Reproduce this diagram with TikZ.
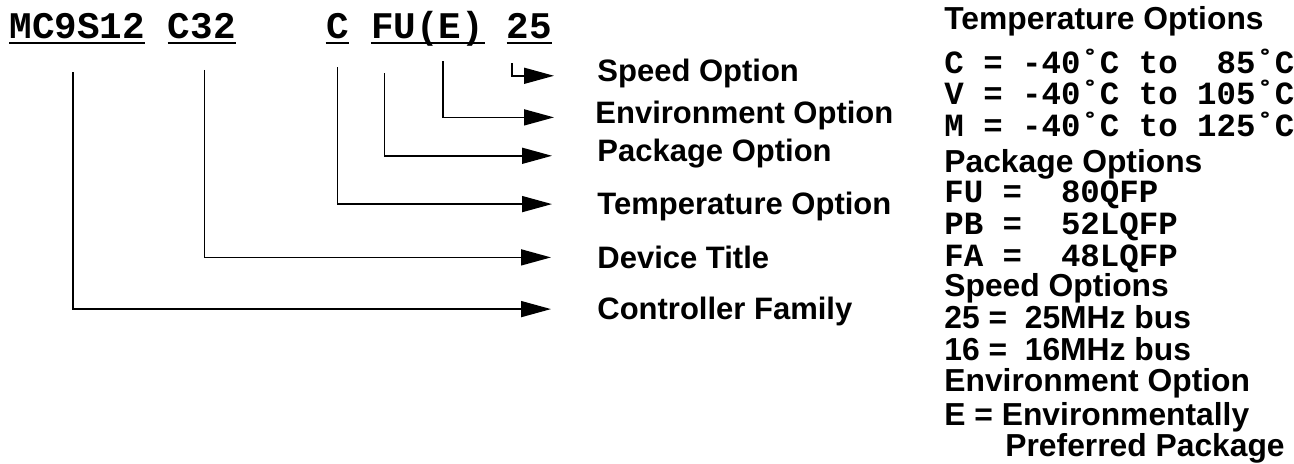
\documentclass[tikz,border=0pt]{standalone}
\usepackage{fontspec}
\setmainfont{Liberation Sans}
\newfontfamily\codefont{Liberation Mono}
\usetikzlibrary{arrows.meta, calc}

\begin{document}
\begin{tikzpicture}[x=0.5pt, y=-0.5pt,
    partno/.style={inner sep=0pt, anchor=base west, font=\codefont\bfseries\fontsize{18.8pt}{20pt}\selectfont},
    codeline/.style={inner sep=0pt, anchor=base west, font=\codefont\bfseries\fontsize{16.2pt}{18pt}\selectfont},
    optlabel/.style={inner sep=0pt, anchor=base west, text height=10.9pt, text depth=0pt, font=\bfseries\fontsize{15.5pt}{18pt}\selectfont},
    keyhead/.style={inner sep=0pt, anchor=base west, font=\bfseries\fontsize{15.9pt}{18pt}\selectfont},
    uline/.style={line width=1pt},
    conn/.style={line width=0.8pt, -{Triangle[length=15pt, width=8pt]}}]
      \useasboundingbox (0, 0) rectangle (1294, 464);

      % Part number
      \node[partno] (fam) at (9.3, 39) {MC9S12};
      \node[partno] (dev) at (167.5, 39) {C32};
      \node[partno] (temp) at (325.7, 39) {C};
      \node[partno] (pkg) at (370.9, 39) {FU(E)};
      \node[partno] (spd) at (506.5, 39) {25};
      \foreach \n in {fam, dev, temp, pkg, spd}
        \draw[uline] ([yshift=-2pt]\n.base west) -- ([yshift=-2pt]\n.base east);

      % Option labels
      \node[optlabel] (speedlbl) at (597, 81.7) {Speed Option};
      \node[optlabel] (envlbl) at (595, 123.3) {Environment Option};
      \node[optlabel] (pkglbl) at (597, 161.7) {Package Option};
      \node[optlabel] (templbl) at (597, 215) {Temperature Option};
      \node[optlabel] (devlbl) at (597, 268.3) {Device Title};
      \node[optlabel] (famlbl) at (597, 320) {Controller Family};

      % Connectors
      \draw[conn] ([xshift=-8.7pt, yshift=-11.85pt]spd.south) |- ([xshift=-21.5pt, yshift=-2.5pt]speedlbl.west);
      \draw[conn] ([xshift=7.5pt, yshift=-7pt]pkg.south) |- ([xshift=-20.5pt, yshift=-2.5pt]envlbl.west);
      \draw[conn] ([xshift=-21.7pt, yshift=-13pt]pkg.south) |- ([xshift=-22.5pt, yshift=-2.5pt]pkglbl.west);
      \draw[conn] ([yshift=-13.85pt]temp.south) |- ([xshift=-22.5pt]templbl.west);
      \draw[conn] ([xshift=1.45pt, yshift=-15pt]dev.south) |- ([xshift=-23pt]devlbl.west);
      \draw[conn] ([xshift=-2.2pt, yshift=-16.3pt]fam.south) |- ([xshift=-23pt]famlbl.west);

      % Key of options
      \node[keyhead] (temphead) at (944, 29.3) {Temperature Options};
      \node[codeline] (tempc) at (944, 73.5) {C = -40˚C to \ 85˚C};
      \node[codeline] (tempv) at (944, 105) {V = -40˚C to 105˚C};
      \node[codeline] (tempm) at (944, 137) {M = -40˚C to 125˚C};
      \node[keyhead] (pkghead) at (944, 173) {Package Options};
      \node[codeline] (pkgfu) at (944, 203) {FU = \ 80QFP};
      \node[codeline] (pkgpb) at (944, 235) {PB = \ 52LQFP};
      \node[codeline] (pkgfa) at (944, 266.7) {FA = \ 48LQFP};
      \node[keyhead] (spdhead) at (944, 296.7) {Speed Options};
      \node[keyhead] (spd25) at (944, 328.3) {25 = \ 25MHz bus};
      \node[keyhead] (spd16) at (944, 360) {16 = \ 16MHz bus};
      \node[keyhead] (envhead) at (944, 391.7) {Environment Option};
      \node[keyhead] (enve) at (944, 425) {E = Environmentally};
      \node[keyhead] (envpref) at (1005, 456.7) {Preferred Package};
\end{tikzpicture}
\end{document}
